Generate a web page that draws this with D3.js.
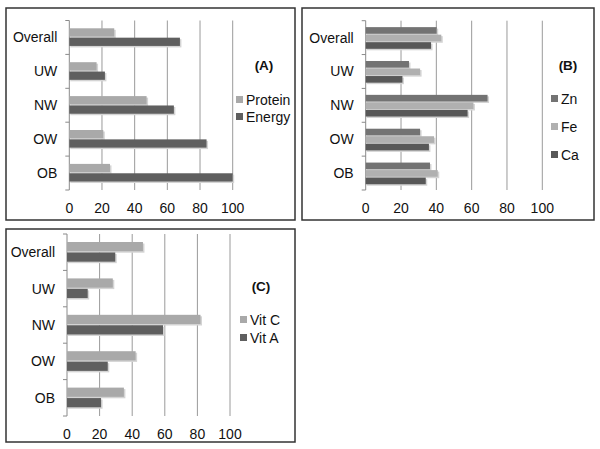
<!DOCTYPE html>
<html><head><meta charset="utf-8">
<script src="https://cdn.jsdelivr.net/npm/d3@7"></script>
<style>body{margin:0;background:#fff}svg{display:block}text{font-family:"Liberation Sans",Arial,sans-serif;fill:#111}</style>
</head><body><svg id="c" width="600" height="449"></svg>
<script>
const categories = ["Overall","UW","NW","OW","OB"];
const xTicks = [0,20,40,60,80,100];
// Panel A
const seriesA = ["Protein","Energy"];
const protein = [27.5,16.7,47.3,20.8,24.9];
const energy = [67.7,21.8,64,84,100];
// Panel B
const seriesB = ["Zn","Fe","Ca"];
const zn = [40.2,24.5,69,30.8,36.4];
const fe = [42.8,30.8,61,38.7,40.8];
const ca = [37,20.8,57.7,35.8,34];
// Panel C
const seriesC = ["Vit C","Vit A"];
const vitC = [46.6,28.1,81.9,42.1,34.9];
const vitA = [29.6,12.7,58.9,25,20.9];

const svg = d3.select("#c");

function panel(o){
  const g = svg.append("g");
  g.append("rect").attr("x",o.box[0]).attr("y",o.box[1]).attr("width",o.box[2]).attr("height",o.box[3])
    .attr("fill","none").attr("stroke","#333").attr("stroke-width",1.5);
  const x = d3.scaleLinear().domain([0,100]).range(o.xr);
  const y = d3.scaleBand().domain(categories).range(o.yr);
  const bw = y.bandwidth();
  const inner = d3.scaleBand().domain(o.series).range([bw*o.inPad[0], bw*o.inPad[1]]).paddingInner(o.gap);
  // gridlines
  g.selectAll(".grid").data(xTicks.slice(1)).join("line")
    .attr("x1",d=>x(d)).attr("x2",d=>x(d)).attr("y1",o.yr[0]).attr("y2",o.yr[1])
    .attr("stroke","#9a9a9a").attr("stroke-width",1);
  // y axis
  g.append("line").attr("x1",x(0)).attr("x2",x(0)).attr("y1",o.yr[0]).attr("y2",o.yr[1]).attr("stroke","#8a8a8a");
  const tickYs = categories.map(c=>y(c)).concat([o.yr[1]]);
  g.selectAll(".yt").data(tickYs).join("line")
    .attr("x1",x(0)-4).attr("x2",x(0)).attr("y1",d=>d).attr("y2",d=>d).attr("stroke","#8a8a8a");
  // bars
  o.series.forEach((s,si)=>{
    const vals = o.values[si];
    g.selectAll(null).data(categories).join("rect")
      .attr("x",x(0)+1).attr("y",c=>y(c)+inner(s)+1.5)
      .attr("width",(c,i)=>Math.max(0,x(vals[i])-x(0)+0.5)).attr("height",inner.bandwidth())
      .attr("fill","#d4d4d4");
    g.selectAll(null).data(categories).join("rect")
      .attr("x",x(0)).attr("y",c=>y(c)+inner(s))
      .attr("width",(c,i)=>x(vals[i])-x(0)).attr("height",inner.bandwidth())
      .attr("fill",o.colors[si]);
  });
  // category labels
  g.selectAll(".cl").data(categories).join("text")
    .attr("x",x(0)-12).attr("y",c=>y(c)+bw/2+5).attr("text-anchor","end")
    .style("font-size","14px").text(c=>c);
  // x tick labels
  g.selectAll(".xl").data(xTicks).join("text")
    .attr("x",d=>x(d)).attr("y",o.yr[1]+23).attr("text-anchor","middle")
    .style("font-size","14px").text(d=>d);
  // legend title
  g.append("text").attr("x",o.title[0]).attr("y",o.title[1]).attr("text-anchor","middle")
    .style("font-size","13.5px").style("font-weight","bold").text(o.label);
  o.series.forEach((s,si)=>{
    const ly = o.leg[1] + si*o.leg[2];
    g.append("rect").attr("x",o.leg[0]).attr("y",ly-4).attr("width",7).attr("height",7).attr("fill",o.colors[si]);
    g.append("text").attr("x",o.leg[0]+10).attr("y",ly+5).style("font-size","14px").text(s);
  });
}

panel({box:[6,8,289,212], xr:[69.3,232.7], yr:[20.5,190], series:seriesA, values:[protein,energy],
  colors:["#a9a9a9","#5f5f5f"], inPad:[0.23,0.75], gap:0.12, label:"(A)", title:[264,70], leg:[236,100,17]});
panel({box:[302,8,292,212], xr:[365.7,542.3], yr:[20.7,190], series:seriesB, values:[zn,fe,ca],
  colors:["#737373","#b0b0b0","#585858"], inPad:[0.19,0.83], gap:0.12, label:"(B)", title:[568,70], leg:[551,99,28]});
panel({box:[6,229,289,213], xr:[67,230], yr:[234,416], series:seriesC, values:[vitC,vitA],
  colors:["#a9a9a9","#5f5f5f"], inPad:[0.22,0.76], gap:0.12, label:"(C)", title:[261,291], leg:[240,320,18]});
</script></body></html>
